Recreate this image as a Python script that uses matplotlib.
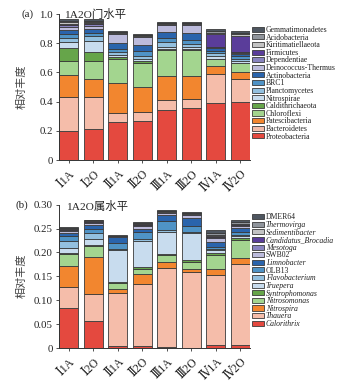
import matplotlib
matplotlib.use("Agg")
import matplotlib.pyplot as plt
from matplotlib.patches import Patch
from matplotlib.ticker import FuncFormatter
import numpy as np

plt.rcParams['font.family'] = ['Liberation Serif', 'DejaVu Serif', 'Noto Sans CJK SC']
plt.rcParams['axes.unicode_minus'] = False

samples = ["Ⅰ1A", "Ⅰ2O", "Ⅱ1A", "Ⅱ2O", "Ⅲ1A", "Ⅲ2O", "Ⅳ1A", "Ⅳ2O"]

# ---- phylum level relative abundance (stack order bottom -> top) ----
proteobacteria = [0.200, 0.212, 0.262, 0.268, 0.342, 0.353, 0.390, 0.399]
bacteroidetes = [0.233, 0.221, 0.059, 0.062, 0.068, 0.068, 0.200, 0.155]
patescibacteria = [0.151, 0.123, 0.208, 0.171, 0.167, 0.156, 0.055, 0.052]
chloroflexi = [0.096, 0.124, 0.166, 0.164, 0.175, 0.175, 0.045, 0.055]
caldithrichaeota = [0.084, 0.061, 0.012, 0.010, 0.006, 0.006, 0.005, 0.006]
nitrospirae = [0.041, 0.075, 0.015, 0.015, 0.017, 0.017, 0.015, 0.013]
planctomycetes = [0.030, 0.034, 0.018, 0.020, 0.030, 0.020, 0.020, 0.015]
brc1 = [0.025, 0.023, 0.022, 0.035, 0.030, 0.025, 0.015, 0.015]
actinobacteria = [0.030, 0.023, 0.038, 0.040, 0.045, 0.048, 0.020, 0.018]
deinococcus_thermus = [0.020, 0.024, 0.062, 0.060, 0.045, 0.058, 0.005, 0.007]
dependentiae = [0.012, 0.010, 0.006, 0.005, 0.004, 0.004, 0.005, 0.007]
firmicutes = [0.010, 0.008, 0.004, 0.002, 0.003, 0.003, 0.087, 0.108]
kiritimatiellaeota = [0.010, 0.008, 0.004, 0.002, 0.003, 0.003, 0.010, 0.012]
acidobacteria = [0.010, 0.009, 0.002, 0.002, 0.003, 0.003, 0.013, 0.010]
gemmatimonadetes = [0.013, 0.010, 0.007, 0.006, 0.004, 0.003, 0.010, 0.013]

phylum_labels = ["Proteobacteria", "Bacteroidetes", "Patescibacteria", "Chloroflexi",
                 "Caldithrichaeota", "Nitrospirae", "Planctomycetes", "BRC1",
                 "Actinobacteria", "Deinococcus-Thermus", "Dependentiae", "Firmicutes",
                 "Kiritimatiellaeota", "Acidobacteria", "Gemmatimonadetes"]
phylum_series = [proteobacteria, bacteroidetes, patescibacteria, chloroflexi,
                 caldithrichaeota, nitrospirae, planctomycetes, brc1, actinobacteria,
                 deinococcus_thermus, dependentiae, firmicutes, kiritimatiellaeota,
                 acidobacteria, gemmatimonadetes]

# ---- genus level relative abundance (stack order bottom -> top) ----
calorithrix = [0.083, 0.057, 0.004, 0.005, 0.002, 0.001, 0.007, 0.006]
thauera = [0.045, 0.057, 0.111, 0.128, 0.165, 0.159, 0.146, 0.170]
nitrospira = [0.043, 0.076, 0.008, 0.022, 0.013, 0.006, 0.012, 0.012]
nitrosomonas = [0.025, 0.024, 0.013, 0.010, 0.014, 0.015, 0.030, 0.039]
syntrophomonas = [0.002, 0.002, 0.002, 0.004, 0.003, 0.003, 0.004, 0.004]
truepera = [0.012, 0.012, 0.067, 0.056, 0.046, 0.056, 0.006, 0.003]
flavobacterium = [0.015, 0.012, 0.003, 0.003, 0.003, 0.003, 0.003, 0.003]
olb13 = [0.010, 0.010, 0.012, 0.015, 0.019, 0.013, 0.004, 0.005]
limnobacter = [0.006, 0.007, 0.012, 0.007, 0.013, 0.016, 0.010, 0.010]
swb02 = [0.004, 0.004, 0.001, 0.006, 0.004, 0.006, 0.008, 0.004]
mesotoga = [0.003, 0.003, 0.001, 0.002, 0.002, 0.002, 0.002, 0.002]
candidatus_brocadia = [0.001, 0.001, 0.0005, 0.001, 0.001, 0.001, 0.002, 0.001]
sedimentibacter = [0.001, 0.001, 0.0005, 0.001, 0.001, 0.001, 0.002, 0.001]
thermovirga = [0.001, 0.001, 0.0005, 0.001, 0.001, 0.001, 0.004, 0.003]
dmer64 = [0.002, 0.001, 0.0005, 0.002, 0.002, 0.001, 0.007, 0.005]

genus_labels = ["Calorithrix", "Thauera", "Nitrospira", "Nitrosomonas", "Syntrophomonas",
                "Truepera", "Flavobacterium", "OLB13", "Limnobacter", "SWB02", "Mesotoga",
                "Candidatus_Brocadia", "Sedimentibacter", "Thermovirga", "DMER64"]
genus_italic = [True, True, True, True, True, True, True, False, True, False, True,
                True, True, True, False]
genus_series = [calorithrix, thauera, nitrospira, nitrosomonas, syntrophomonas, truepera,
                flavobacterium, olb13, limnobacter, swb02, mesotoga, candidatus_brocadia,
                sedimentibacter, thermovirga, dmer64]

stack_colors = ["#E4493F", "#F5BDAA", "#F2862F", "#A3D58F", "#66A54A", "#C8DCEE",
                "#93C0DF", "#4F93C6", "#2A64AC", "#BCBBDC", "#8984C0", "#5A3D9A",
                "#C3C3C3", "#90959C", "#4E5660"]

EDGE = "#3a3a3a"
W, H = 344, 381


def draw_stack(ax, series, ymax, ticks, fmt):
    x = np.arange(len(samples))
    bottom = np.zeros(len(samples))
    for vals, col in zip(series, stack_colors):
        v = np.array(vals)
        ax.bar(x, v, bottom=bottom, width=0.78, color=col, edgecolor=EDGE,
               linewidth=0.6)
        bottom += v
    ax.set_xlim(-0.39, len(samples) - 0.61)
    ax.set_ylim(0, ymax)
    ax.set_yticks(ticks)
    ax.yaxis.set_major_formatter(FuncFormatter(fmt))
    ax.set_xticks(x)
    ax.set_xticklabels(samples, rotation=45, ha='right', rotation_mode='anchor',
                       fontsize=8.5)
    for s in ("top", "right"):
        ax.spines[s].set_visible(False)
    for s in ("left", "bottom"):
        ax.spines[s].set_linewidth(0.7)
        ax.spines[s].set_color("#333333")
    ax.tick_params(axis='both', direction='out', length=2.5, width=0.6,
                   color="#333333", pad=2, labelcolor="#222222")
    ax.tick_params(axis='y', labelsize=7.8)
    ax.tick_params(axis='x', pad=3)


def add_legend(ax, labels, italics, y_center):
    handles = [Patch(facecolor=c, edgecolor=EDGE, linewidth=0.6) for c in stack_colors]
    handles = handles[::-1]
    labs = labels[::-1]
    it = italics[::-1] if italics is not None else [False] * len(labs)
    leg = ax.legend(handles, labs, loc='center left',
                    bbox_to_anchor=(252 / W, y_center), bbox_transform=ax.figure.transFigure,
                    frameon=False, fontsize=5.6, labelspacing=-0.05,
                    handlelength=1.55, handleheight=0.62, handletextpad=0.2,
                    borderpad=0, borderaxespad=0)
    for t, flag in zip(leg.get_texts(), it):
        t.set_color("#222222")
        if flag:
            t.set_fontstyle('italic')
    return leg


fig = plt.figure(figsize=(W / 100, H / 100), dpi=100)
fig.patch.set_facecolor("white")

ax1 = fig.add_axes([59 / W, 1 - 160 / H, 191 / W, 146 / H])
draw_stack(ax1, phylum_series, 1.0, [0, 0.2, 0.4, 0.6, 0.8, 1.0],
           lambda v, p: "0" if v == 0 else f"{v:.1f}")
add_legend(ax1, phylum_labels, None, 1 - 83.3 / H)

ax2 = fig.add_axes([59 / W, 1 - 348 / H, 191 / W, 143.3 / H])
draw_stack(ax2, genus_series, 0.30, [0, 0.05, 0.10, 0.15, 0.20, 0.25, 0.30],
           lambda v, p: "0" if v == 0 else f"{v:.2f}")
add_legend(ax2, genus_labels, genus_italic, 1 - 270.7 / H)

# panel titles, tags and axis labels
fig.text(64 / W, 1 - 14 / H, "1A2O门水平", fontsize=8.2, va='center', ha='left',
         color="#222222")
fig.text(66 / W, 1 - 206.5 / H, "1A2O属水平", fontsize=8.2, va='center', ha='left',
         color="#222222")
fig.text(33 / W, 1 - 14 / H, "(a)", fontsize=7.8, va='center', ha='right', color="#222222")
fig.text(28 / W, 1 - 205 / H, "(b)", fontsize=7.8, va='center', ha='right', color="#222222")
fig.text(22 / W, 1 - 87 / H, "相对丰度", fontsize=8, rotation=90, va='center',
         ha='center', color="#444444", family=['Noto Sans CJK SC'])
fig.text(22 / W, 1 - 276 / H, "相对丰度", fontsize=8, rotation=90, va='center',
         ha='center', color="#444444", family=['Noto Sans CJK SC'])

fig.savefig("out.png", dpi=100, facecolor="white")
